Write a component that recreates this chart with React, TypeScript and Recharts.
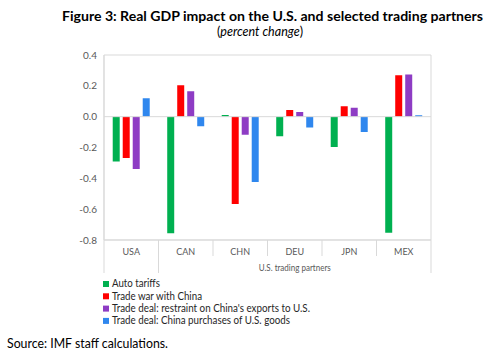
import React from 'react';
import { BarChart, Bar, XAxis, YAxis, ReferenceLine, ReferenceArea } from 'recharts';

const categories = ['USA', 'CAN', 'CHN', 'DEU', 'JPN', 'MEX'];
const autoTariffs = [-0.29, -0.757, 0.011, -0.127, -0.197, -0.753];
const tradeWar = [-0.268, 0.204, -0.567, 0.044, 0.067, 0.269];
const restraint = [-0.34, 0.165, -0.117, 0.03, 0.058, 0.273];
const purchases = [0.12, -0.062, -0.424, -0.071, -0.1, 0.009];

const seriesKeys = ['auto', 'war', 'restraint', 'purchases'];
const seriesNames = [
  'Auto tariffs',
  'Trade war with China',
  "Trade deal: restraint on China's exports to U.S.",
  'Trade deal: China purchases of U.S. goods',
];
const seriesColors = ['#00B050', '#FF0000', '#8E3CC4', '#2F87EE'];
const yTicks = [-0.8, -0.6, -0.4, -0.2, 0, 0.2, 0.4];
const groupLabel = 'U.S. trading partners';
const titleText = 'Figure 3: Real GDP impact on the U.S. and selected trading partners';
const subtitleText = 'percent change';
const sourceText = 'Source: IMF staff calculations.';

// text widths (styling only) to mimic the original narrow font
const legendWidths = [48, 90, 198, 178];

const data = categories.map((c, i) => ({
  cat: c,
  auto: autoTariffs[i],
  war: tradeWar[i],
  restraint: restraint[i],
  purchases: purchases[i],
}));

const FONT = 'Lato, "Open Sans", "Noto Sans", sans-serif';
const AXIS = '#D9D9D9';
const LABEL = '#595959';

function CategoryTick(props: any) {
  const { x, y, payload, index, width, visibleTicksCount } = props;
  const bw = width / visibleTicksCount;
  const left = x - bw / 2;
  const right = x + bw / 2;
  const longEnd = y + 33;
  const shortEnd = y + 16;
  const isLast = index === visibleTicksCount - 1;
  return (
    <g>
      <line x1={left} x2={left} y1={y} y2={index <= 1 ? longEnd : shortEnd} stroke={AXIS} strokeWidth={1} />
      {isLast && <line x1={right} x2={right} y1={y} y2={longEnd} stroke={AXIS} strokeWidth={1} />}
      <text x={x} y={y + 14.5} textAnchor="middle" fontSize={9} fill={LABEL} fontFamily={FONT}>
        {payload.value}
      </text>
      {index === 1 && (
        <text x={x + 2 * bw} y={y + 30.5} textAnchor="middle" fontSize={9} fill={LABEL} fontFamily={FONT} textLength={72} lengthAdjust="spacingAndGlyphs">
          {groupLabel}
        </text>
      )}
    </g>
  );
}

export default function App() {
  return (
    <div style={{ position: 'absolute', left: 0, top: 0, width: 493, height: 361, background: '#fff', fontFamily: FONT }}>
      <div style={{ position: 'absolute', left: 0, top: 0 }}>
        <BarChart
          width={493}
          height={361}
          data={data}
          margin={{ top: 55, right: 62, left: 64, bottom: 88 }}
          barCategoryGap="16%"
          barGap={3}
        >
          <ReferenceArea y1={-0.8} y2={0.4} fill="none" stroke={AXIS} strokeWidth={1} fillOpacity={0} />
          <XAxis
            dataKey="cat"
            height={33}
            axisLine={{ stroke: AXIS }}
            tickLine={false}
            tickSize={0}
            tickMargin={0}
            interval={0}
            tick={<CategoryTick />}
          />
          <YAxis
            domain={[-0.8, 0.4]}
            ticks={yTicks}
            width={40}
            axisLine={{ stroke: AXIS }}
            tickLine={false}
            tickSize={0}
            tickMargin={7}
            tickFormatter={(v: number) => v.toFixed(1)}
            tick={{ fontSize: 10, fill: LABEL, fontFamily: FONT }}
            allowDataOverflow
          />
          <ReferenceLine y={0} stroke={AXIS} strokeWidth={1} />
          {seriesKeys.map((k, i) => (
            <Bar key={k} dataKey={k} name={seriesNames[i]} fill={seriesColors[i]} isAnimationActive={false} />
          ))}
        </BarChart>
      </div>
      <svg width={493} height={361} style={{ position: 'absolute', left: 0, top: 0, pointerEvents: 'none' }} fontFamily={FONT}>
        <text x={62} y={20.5} fontSize={14} fontWeight={700} fill="#000" textLength={421} lengthAdjust="spacingAndGlyphs">
          {titleText}
        </text>
        <text x={260} y={35.5} fontSize={12.5} fill="#000" textAnchor="middle">
          (<tspan fontStyle="italic">{subtitleText}</tspan>)
        </text>
        {seriesNames.map((n, i) => (
          <g key={n}>
            <rect x={103} y={281 + i * 12.3} width={6} height={6} fill={seriesColors[i]} />
            <text x={112} y={287.2 + i * 12.3} fontSize={11.5} fill="#262626" textLength={legendWidths[i]} lengthAdjust="spacingAndGlyphs">
              {n}
            </text>
          </g>
        ))}
        <text x={7} y={347.5} fontSize={13.5} fill="#000" textLength={161} lengthAdjust="spacingAndGlyphs">
          {sourceText}
        </text>
      </svg>
    </div>
  );
}
